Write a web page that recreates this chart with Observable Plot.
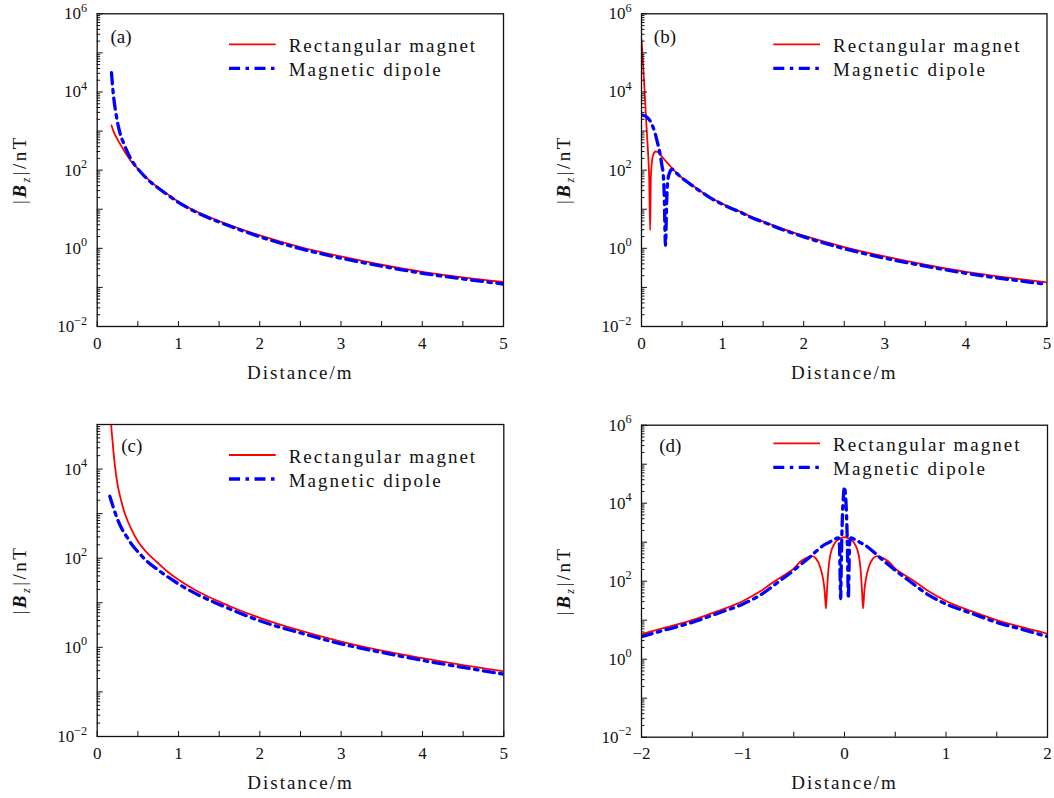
<!DOCTYPE html>
<html>
<head>
<meta charset="utf-8">
<script src="https://cdn.jsdelivr.net/npm/d3@7"></script>
<script src="https://cdn.jsdelivr.net/npm/@observablehq/plot@0.6"></script>
<style>
  html, body { margin: 0; padding: 0; background: #fff; }
  #wrap { position: relative; width: 1054px; height: 798px; background: #fff; }
  #wrap > svg { position: absolute; }
</style>
</head>
<body>
<div id="wrap"></div>
<script>
// ---------------- Data ----------------
// Panel (a)
const aRectDist = [0.176, 0.2, 0.25, 0.3, 0.36, 0.42, 0.5, 0.6, 0.67, 0.75, 0.87, 1.0, 1.1, 1.25, 1.5, 1.75, 2, 2.5, 3, 3.5, 4, 4.5, 5];
const aRect     = [1390, 1000, 610, 405, 250, 166, 110, 66, 48, 36, 24, 15.5, 11.7, 8.2, 5.0, 3.2, 2.15, 1.08, 0.62, 0.38, 0.25, 0.18, 0.137];
const aDipDist  = [0.176, 0.197, 0.23, 0.28, 0.32, 0.36, 0.41, 0.46, 0.5, 0.6, 0.67, 0.75, 0.87, 1, 1.1, 1.25, 1.5, 1.75, 2, 2.5, 3, 3.5, 4, 4.5, 5];
const aDip      = [31000, 9400, 2900, 890, 520, 330, 200, 137, 108, 64, 47, 35, 23, 15, 11.3, 7.8, 4.7, 3.0, 1.98, 0.98, 0.56, 0.35, 0.23, 0.165, 0.122];

// Panel (b)
const bRectDist = [0, 0.02, 0.035, 0.05, 0.065, 0.08, 0.095, 0.107, 0.115, 0.125, 0.145, 0.175, 0.2, 0.234, 0.3, 0.358, 0.42, 0.48, 0.6, 0.73, 0.85, 0.97, 1.1, 1.22, 1.34, 1.5, 1.75, 2, 2.5, 3, 3.5, 4, 4.5, 5];
const bRect     = [220000, 50000, 14000, 3500, 1000, 300, 60, 2.9, 60, 140, 250, 300, 290, 246, 170, 124, 90, 69, 45, 29, 20, 14.8, 11, 8.7, 6.6, 4.9, 3.1, 2.1, 1.08, 0.62, 0.38, 0.25, 0.18, 0.135];
const bDipDist  = [0, 0.05, 0.11, 0.14, 0.173, 0.2, 0.234, 0.255, 0.267, 0.28, 0.296, 0.31, 0.325, 0.35, 0.378, 0.42, 0.48, 0.6, 0.73, 0.85, 0.97, 1.1, 1.22, 1.34, 1.5, 1.75, 2, 2.5, 3, 3.5, 4, 4.5, 5];
const bDip      = [2600, 2400, 1770, 1300, 800, 480, 224, 120, 84, 25, 1.2, 15, 56, 90, 106, 88, 68, 44, 28.5, 19.5, 14.3, 10.6, 8.4, 6.3, 4.7, 2.95, 1.97, 0.98, 0.56, 0.35, 0.23, 0.163, 0.12];

// Panel (c)
const cRectDist = [0.165, 0.172, 0.185, 0.2, 0.22, 0.246, 0.27, 0.3, 0.33, 0.37, 0.42, 0.5, 0.6, 0.74, 0.87, 1, 1.25, 1.5, 1.75, 2, 2.5, 3, 3.5, 4, 4.5, 5];
const cRect     = [200000, 100000, 50000, 25000, 11000, 5000, 3000, 1800, 1150, 720, 450, 240, 140, 80, 49, 33, 17.5, 10.6, 6.8, 4.6, 2.36, 1.34, 0.84, 0.57, 0.40, 0.29];
const cDipDist  = [0.155, 0.2, 0.246, 0.3, 0.37, 0.42, 0.5, 0.6, 0.74, 0.87, 1, 1.25, 1.5, 1.75, 2, 2.5, 3, 3.5, 4, 4.5, 5];
const cDip      = [2450, 1350, 780, 470, 290, 210, 140, 90, 56, 38, 26.5, 14.8, 9.2, 5.9, 3.95, 2.1, 1.2, 0.77, 0.51, 0.355, 0.25];

// Panel (d)
const dRectDist = [-2, -1.75, -1.5, -1.25, -1, -0.83, -0.7, -0.6, -0.5, -0.44, -0.38, -0.32, -0.28, -0.24, -0.21, -0.195, -0.183, -0.172, -0.16, -0.141, -0.1, -0.05, 0, 0.05, 0.1, 0.141, 0.16, 0.172, 0.183, 0.195, 0.21, 0.24, 0.28, 0.32, 0.38, 0.44, 0.5, 0.6, 0.7, 0.83, 1, 1.25, 1.5, 1.75, 2];
const dRect     = [4.4, 6.6, 10, 17, 31, 55, 95, 140, 210, 310, 390, 440, 380, 230, 110, 55, 20, 60, 180, 460, 910, 1220, 1340, 1220, 910, 460, 180, 60, 20, 55, 110, 230, 380, 440, 390, 310, 210, 140, 95, 55, 31, 17, 10, 6.6, 4.5];
const dDipDist  = [-2, -1.75, -1.5, -1.25, -1, -0.83, -0.63, -0.5, -0.44, -0.35, -0.27, -0.2, -0.15, -0.108, -0.075, -0.06, -0.05, -0.045, -0.038, -0.032, -0.026, -0.02, -0.01, 0, 0.01, 0.02, 0.026, 0.032, 0.038, 0.045, 0.05, 0.06, 0.075, 0.108, 0.15, 0.2, 0.27, 0.35, 0.44, 0.5, 0.63, 0.83, 1, 1.25, 1.5, 1.75, 2];
const dDip      = [3.8, 5.8, 8.8, 15, 26, 44, 106, 190, 256, 400, 615, 850, 1000, 1150, 1270, 1290, 900, 250, 36, 250, 1500, 5000, 16000, 26000, 16000, 5000, 1500, 250, 36, 250, 900, 1290, 1270, 1150, 1000, 850, 615, 400, 256, 190, 106, 44, 26, 15, 8.8, 5.8, 3.8];

// Tick labels
const xTicksPos   = [0, 1, 2, 3, 4, 5];
const xHalfPos    = [0.5, 1.5, 2.5, 3.5, 4.5];
const xTicksSym   = [-2, -1, 0, 1, 2];
const xHalfSym    = [-1.5, -0.5, 0.5, 1.5];
const yLabels6    = [1e-2, 1e0, 1e2, 1e4, 1e6];
const yLabels5    = [1e-2, 1e0, 1e2, 1e4];
const seriesNames = ["Rectangular magnet", "Magnetic dipole"];
const panelNames  = ["(a)", "(b)", "(c)", "(d)"];
const xTitle      = "Distance/m";

// ---------------- Styling ----------------
const FONT = "'Liberation Serif', 'DejaVu Serif', serif";
const RED = "#ff0000", BLUE = "#0000ff", INK = "#111";
const W = 527, H = 399;

function decadeTicks(lo, hi) { const o = []; for (let e = lo; e <= hi; e++) o.push(Math.pow(10, e)); return o; }
function minorTicks(lo, hi) { const o = []; for (let e = lo; e < hi; e++) for (let m = 2; m <= 9; m++) o.push(m * Math.pow(10, e)); return o; }
const fmtX = d => (d < 0 ? "\u2212" + (-d) : String(d));

const panels = [
  {name: panelNames[0], left: 0,   top: 0,   ml: 96.7, mr: 24,  mt: 13.3, mb: 73,
   xDomain: [0, 5], yExp: [-2, 6], yLabels: yLabels6, xTicks: xTicksPos, xHalf: xHalfPos,
   rx: aRectDist, ry: aRect, dx: aDipDist, dy: aDip, labDx: 13.3, labDy: 23.4, legDy: 31},
  {name: panelNames[1], left: 527, top: 0,   ml: 114,  mr: 7.5, mt: 13.3, mb: 73,
   xDomain: [0, 5], yExp: [-2, 6], yLabels: yLabels6, xTicks: xTicksPos, xHalf: xHalfPos,
   rx: bRectDist, ry: bRect, dx: bDipDist, dy: bDip, labDx: 12.3, labDy: 23.4, legDy: 31},
  {name: panelNames[2], left: 0,   top: 399, ml: 96.7, mr: 23.7, mt: 25,  mb: 62,
   xDomain: [0, 5], yExp: [-2, 5], yLabels: yLabels5, xTicks: xTicksPos, xHalf: xHalfPos,
   rx: cRectDist, ry: cRect, dx: cDipDist, dy: cDip, labDx: 24, labDy: 21, legDy: 31},
  {name: panelNames[3], left: 527, top: 399, ml: 114,  mr: 7,   mt: 25.7, mb: 61.3,
   xDomain: [-2, 2], yExp: [-2, 6], yLabels: yLabels6, xTicks: xTicksSym, xHalf: xHalfSym,
   rx: dRectDist, ry: dRect, dx: dDipDist, dy: dDip, labDx: 17.7, labDy: 20.3, legDy: 18.6}
];

const wrap = document.getElementById("wrap");

for (const p of panels) {
  const rect = p.rx.map((x, i) => ({x, y: p.ry[i]}));
  const dip  = p.dx.map((x, i) => ({x, y: p.dy[i]}));
  const svg = Plot.plot({
    width: W, height: H,
    marginLeft: p.ml, marginRight: p.mr, marginTop: p.mt, marginBottom: p.mb,
    style: {fontFamily: FONT, fontSize: "17px", color: INK, background: "transparent", overflow: "visible"},
    x: {domain: p.xDomain},
    y: {type: "log", domain: [Math.pow(10, p.yExp[0]), Math.pow(10, p.yExp[1])]},
    marks: [
      Plot.line(rect, {x: "x", y: "y", stroke: RED, strokeWidth: 1.8, curve: "monotone-x", clip: true}),
      Plot.line(dip,  {x: "x", y: "y", stroke: BLUE, strokeWidth: 3.3, strokeDasharray: "11,5.5,3.5,5.5", curve: "monotone-x", clip: true}),
      Plot.frame({stroke: INK, strokeWidth: 1.3}),
      Plot.axisX({ticks: [...p.xTicks, ...p.xHalf], tickSize: -5, tickFormat: () => "", label: null}),
      Plot.axisX({ticks: p.xTicks, tickSize: 0, tickPadding: 10, tickFormat: fmtX, label: null}),
      Plot.axisY({ticks: decadeTicks(p.yExp[0], p.yExp[1]), tickSize: -6, tickFormat: () => "", label: null}),
      Plot.axisY({ticks: minorTicks(p.yExp[0], p.yExp[1]), tickSize: -3.5, tickFormat: () => "", label: null}),
      Plot.axisY({ticks: p.yLabels, tickSize: 0, tickPadding: 10, tickFormat: d => "10^" + Math.round(Math.log10(d)), label: null}),
      Plot.text([p.name], {frameAnchor: "top-left", dx: p.labDx, dy: p.labDy, textAnchor: "start", lineAnchor: "middle", fontSize: 19}),
      Plot.text([xTitle], {frameAnchor: "bottom", dy: 52, lineAnchor: "bottom", fontSize: 19})
    ]
  });
  svg.style.left = p.left + "px";
  svg.style.top = p.top + "px";
  const s = d3.select(svg);

  // superscript exponents on y tick labels
  s.selectAll('g[aria-label="y-axis tick label"] text').each(function () {
    const t = this.textContent;
    if (!t.includes("^")) return;
    const [b, e] = t.split("^");
    const sel = d3.select(this);
    sel.text(b);
    sel.append("tspan").attr("dy", "-0.6em").attr("font-size", "0.72em").text(e.replace("-", "\u2212"));
  });
  // letter spacing on x title
  s.selectAll("text").filter(function () { return this.textContent === xTitle; }).attr("letter-spacing", 2);

  // y axis title |B_z|/nT
  const cy = (p.mt + (H - p.mb)) / 2;
  const yl = s.append("text")
    .attr("transform", `translate(${p.ml - 71},${cy}) rotate(-90)`)
    .attr("text-anchor", "middle").attr("font-family", FONT).attr("font-size", 19)
    .attr("letter-spacing", 2.5).attr("fill", INK);
  yl.append("tspan").text("|");
  yl.append("tspan").attr("font-weight", "bold").attr("font-style", "italic").text("B");
  yl.append("tspan").attr("font-style", "italic").attr("font-size", 12).attr("dy", 4).text("z");
  yl.append("tspan").attr("dy", -4).text("|/nT");

  // legend
  const lg = s.append("g").attr("font-family", FONT).attr("font-size", 19)
    .attr("letter-spacing", 2).attr("fill", INK).attr("text-anchor", "start");
  const lx0 = p.ml + 132.3, lx1 = p.ml + 179, tx = p.ml + 192;
  const y1 = p.mt + p.legDy, y2 = y1 + 24;
  lg.append("line").attr("x1", lx0).attr("x2", lx1).attr("y1", y1).attr("y2", y1)
    .attr("stroke", RED).attr("stroke-width", 1.8);
  lg.append("line").attr("x1", lx0).attr("x2", lx1).attr("y1", y2).attr("y2", y2)
    .attr("stroke", BLUE).attr("stroke-width", 3.3).attr("stroke-dasharray", "11,5.5,3.5,5.5");
  lg.append("text").attr("x", tx).attr("y", y1 + 8).text(seriesNames[0]);
  lg.append("text").attr("x", tx).attr("y", y2 + 8).text(seriesNames[1]);

  wrap.appendChild(svg);
}
</script>
</body>
</html>
